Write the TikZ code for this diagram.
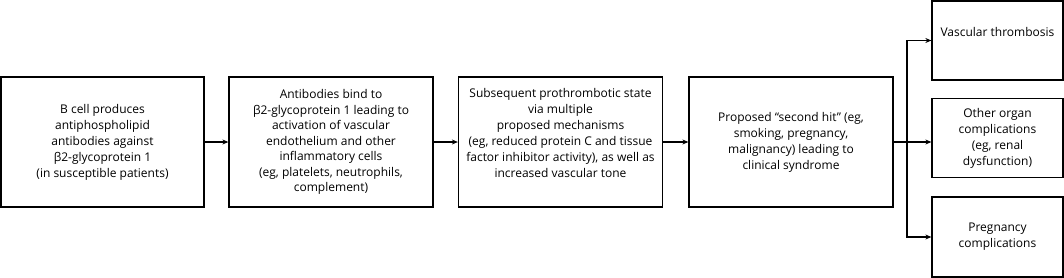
\documentclass[tikz,border=0pt]{standalone}
\usepackage{fontspec}
\setmainfont{Open Sans}
\usetikzlibrary{arrows.meta, positioning}
\tikzset{
  every picture/.style={line width=1.3pt, x=1pt, y=-1pt},
  stage/.style={draw, align=center, minimum width=204pt, minimum height=130pt, inner sep=3pt, font=\fontsize{12}{16}\selectfont},
  outcome/.style={stage, minimum width=131pt, minimum height=79pt},
  arrow/.style={-{Stealth[length=6pt, width=5pt]}},
}
\begin{document}
\begin{tikzpicture}
  \useasboundingbox (0,0) rectangle (1064,278);
  % main chain
  \node[stage, minimum width=203pt] (bcell) at (102.5,142) {B cell produces\\antiphospholipid\\antibodies against\\β2-glycoprotein 1\\(in susceptible patients)};
  \node[stage, font=\fontsize{12}{15.5}\selectfont] (bind) at (331,142) {Antibodies bind to\\β2-glycoprotein 1 leading to\\activation of vascular\\endothelium and other\\inflammatory cells\\(eg, platelets, neutrophils,\\complement)};
  \node[stage, text depth=18pt] (state) at (560.5,142) {Subsequent prothrombotic state\\via multiple\\proposed mechanisms\\(eg, reduced protein C and tissue\\factor inhibitor activity), as well as\\increased vascular tone};
  \node[stage] (hit) at (791,142) {Proposed “second hit” (eg,\\smoking, pregnancy,\\malignancy) leading to\\clinical syndrome};
  \draw[arrow] (bcell) -- (bind);
  \draw[arrow] (bind) -- (state);
  \draw[arrow] (state) -- (hit);
  % outcomes
  \node[outcome, text depth=18pt] (thromb) at (997.5,40.5) {Vascular thrombosis};
  \node[outcome] (organ) at (997.5,138) {Other organ\\complications\\(eg, renal\\dysfunction)};
  \node[outcome, minimum height=80pt] (preg) at (997.5,237) {Pregnancy\\complications};
  \coordinate (split) at (907,142);
  \draw (hit) -- (split);
  \draw[arrow] (split) |- (thromb);
  \draw[arrow] (split) -- (split -| organ.west);
  \draw[arrow] (split) |- (preg);
\end{tikzpicture}
\end{document}
